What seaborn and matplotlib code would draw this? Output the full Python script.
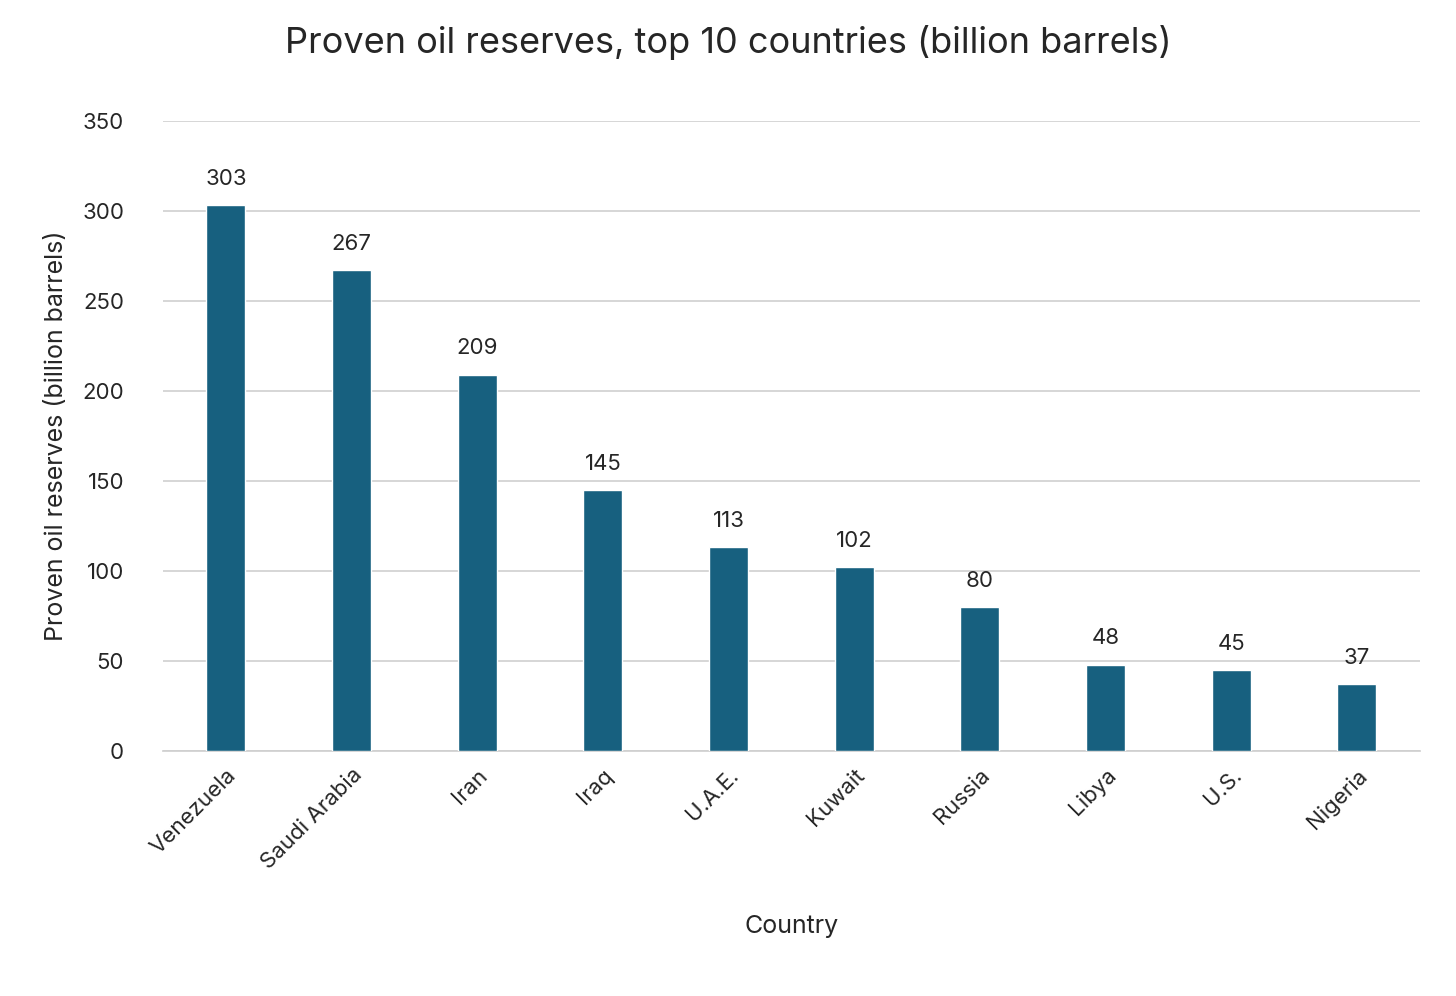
import matplotlib
matplotlib.use("Agg")
import matplotlib.pyplot as plt
import seaborn as sns
import pandas as pd

countries = ["Venezuela", "Saudi Arabia", "Iran", "Iraq", "U.A.E.",
             "Kuwait", "Russia", "Libya", "U.S.", "Nigeria"]
reserves = [303, 267, 209, 145, 113, 102, 80, 48, 45, 37]
yticks = [0, 50, 100, 150, 200, 250, 300, 350]

sns.set_theme(style="white")
plt.rcParams['font.family'] = ['Inter', 'DejaVu Sans']

df = pd.DataFrame({"Country": countries, "Reserves": reserves})

fig = plt.figure(figsize=(14.56, 9.96), dpi=100)
ax = fig.add_axes([0.112, 0.246, 0.863, 0.633])
sns.barplot(data=df, x="Country", y="Reserves", color="#17607f",
            width=0.31, saturation=1, ax=ax, zorder=3)

for i, v in enumerate(reserves):
    ax.text(i, v + 9, str(v), ha="center", va="bottom", fontsize=16)

ax.set_ylim(0, 350)
ax.set_yticks(yticks)
ax.yaxis.grid(True, color="#d0d0d0", lw=1.2, zorder=0)
for s in ["top", "right", "left"]:
    ax.spines[s].set_visible(False)
ax.spines["bottom"].set_color("#d0d0d0")
ax.tick_params(axis="y", labelsize=16, length=0, pad=28)
ax.tick_params(axis="x", labelsize=16, length=0, pad=10)
plt.setp(ax.get_xticklabels(), rotation=45, ha="right", rotation_mode="anchor")
ax.set_xlabel("Country", fontsize=18, labelpad=30)
ax.set_ylabel("Proven oil reserves (billion barrels)", fontsize=18, labelpad=10)
fig.suptitle("Proven oil reserves, top 10 countries (billion barrels)",
             fontsize=26, x=0.50, y=0.975)

fig.savefig("out.png", dpi=100)
